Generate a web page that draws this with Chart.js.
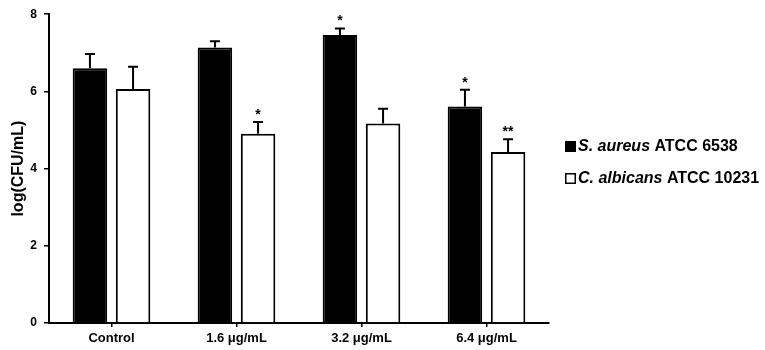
<!DOCTYPE html>
<html>
<head>
<meta charset="utf-8">
<script src="https://cdn.jsdelivr.net/npm/chart.js@4"></script>
<style>
  html, body { margin: 0; padding: 0; background: #fff; }
  #wrap { width: 765px; height: 350px; }
</style>
</head>
<body>
<div id="wrap"><canvas id="chart" width="765" height="350"></canvas></div>
<script>
const categories = ['Control', '1.6 μg/mL', '3.2 μg/mL', '6.4 μg/mL'];
const yTicks = [0, 2, 4, 6, 8];

// S. aureus ATCC 6538
const aureusMean = [6.60, 7.14, 7.46, 5.61];
const aureusErr = [0.37, 0.16, 0.17, 0.43];
const aureusSig = ['', '', '*', '*'];

// C. albicans ATCC 10231
const albicansMean = [6.06, 4.90, 5.17, 4.43];
const albicansErr = [0.58, 0.31, 0.38, 0.33];
const albicansSig = ['', '*', '', '**'];

const legendItems = [
    { italic: 'S. aureus', plain: ' ATCC 6538', fill: '#000' },
    { italic: 'C. albicans', plain: ' ATCC 10231', fill: '#fff' }
];

const errs = [aureusErr, albicansErr];
const sigs = [aureusSig, albicansSig];

// error bars + asterisks
const errorBarPlugin = {
    id: 'errorBars',
    afterDatasetsDraw(chart) {
        const ctx = chart.ctx;
        const yScale = chart.scales.y;
        ctx.save();
        ctx.strokeStyle = '#000';
        ctx.fillStyle = '#000';
        ctx.lineWidth = 2;
        chart.data.datasets.forEach((ds, di) => {
            const meta = chart.getDatasetMeta(di);
            meta.data.forEach((bar, i) => {
                const top = yScale.getPixelForValue(ds.data[i] + errs[di][i]);
                ctx.beginPath();
                ctx.moveTo(bar.x, bar.y);
                ctx.lineTo(bar.x, top);
                ctx.moveTo(bar.x - 5, top);
                ctx.lineTo(bar.x + 5, top);
                ctx.stroke();
                if (sigs[di][i]) {
                    ctx.font = 'bold 14px "Liberation Sans", Arial, sans-serif';
                    ctx.textAlign = 'center';
                    ctx.textBaseline = 'alphabetic';
                    ctx.fillText(sigs[di][i], bar.x, top - 3);
                }
            });
        });
        ctx.restore();
    }
};

// legend with italic species names
const sideLegendPlugin = {
    id: 'sideLegend',
    afterDraw(chart) {
        const ctx = chart.ctx;
        ctx.save();
        const x0 = 565;
        legendItems.forEach((item, i) => {
            const cy = 146 + i * 32;
            ctx.fillStyle = item.fill;
            ctx.fillRect(x0, cy - 5, 11, 11);
            ctx.strokeStyle = '#000';
            ctx.lineWidth = 1.5;
            ctx.strokeRect(x0 + 0.75, cy - 4.25, 9.5, 9.5);
            ctx.fillStyle = '#000';
            ctx.textBaseline = 'middle';
            ctx.textAlign = 'left';
            ctx.font = 'italic bold 16px "Liberation Sans", Arial, sans-serif';
            ctx.fillText(item.italic, x0 + 13, cy + 1);
            const w = ctx.measureText(item.italic).width;
            ctx.font = 'bold 16px "Liberation Sans", Arial, sans-serif';
            ctx.fillText(item.plain, x0 + 13 + w, cy + 1);
        });
        ctx.restore();
    }
};

function renderChart() {
    const ctx = document.getElementById('chart').getContext('2d');
    new Chart(ctx, {
        type: 'bar',
        data: {
            labels: categories,
            datasets: [{
                label: 'S. aureus ATCC 6538',
                data: aureusMean,
                backgroundColor: '#000',
                borderColor: '#000',
                borderWidth: 2,
                categoryPercentage: 0.69,
                barPercentage: 0.8
            }, {
                label: 'C. albicans ATCC 10231',
                data: albicansMean,
                backgroundColor: '#fff',
                borderColor: '#000',
                borderWidth: 2,
                categoryPercentage: 0.69,
                barPercentage: 0.8
            }]
        },
        options: {
            responsive: false,
            animation: false,
            layout: { padding: { top: 9, right: 216, left: 0, bottom: 0 } },
            plugins: {
                legend: { display: false },
                tooltip: { enabled: false }
            },
            scales: {
                x: {
                    afterFit(scale) { scale.height = 27; },
                    grid: {
                        display: true,
                        drawOnChartArea: false,
                        drawTicks: true,
                        tickLength: 4,
                        offset: false,
                        color: '#000',
                        lineWidth: 1.5
                    },
                    border: { color: '#000', width: 2 },
                    ticks: {
                        color: '#000',
                        padding: 4,
                        font: { family: '"Liberation Sans", Arial, sans-serif', size: 13, weight: 'bold' }
                    }
                },
                y: {
                    min: 0,
                    max: 8,
                    afterFit(scale) { scale.width = 49; },
                    afterBuildTicks(scale) { scale.ticks = yTicks.map(v => ({ value: v })); },
                    grid: {
                        display: true,
                        drawOnChartArea: false,
                        drawTicks: true,
                        tickLength: 5,
                        color: '#000',
                        lineWidth: 1.5
                    },
                    border: { color: '#000', width: 2 },
                    ticks: {
                        color: '#000',
                        padding: 7,
                        font: { family: '"Liberation Sans", Arial, sans-serif', size: 12, weight: 'bold' }
                    },
                    title: {
                        display: true,
                        text: 'log(CFU/mL)',
                        color: '#000',
                        padding: { top: 9, bottom: 0 },
                        font: { family: '"Liberation Sans", Arial, sans-serif', size: 16, weight: 'bold' }
                    }
                }
            }
        },
        plugins: [errorBarPlugin, sideLegendPlugin]
    });
}

document.addEventListener('DOMContentLoaded', renderChart);
</script>
</body>
</html>
